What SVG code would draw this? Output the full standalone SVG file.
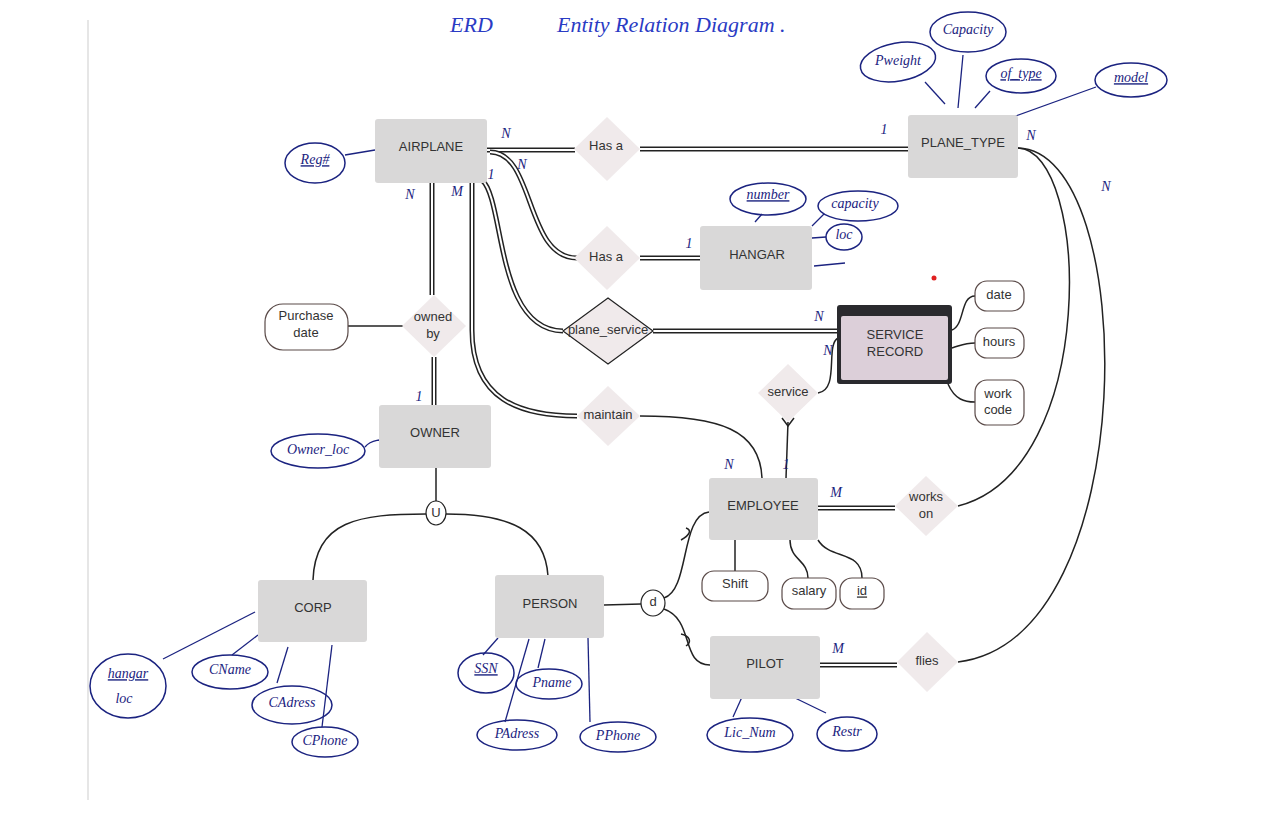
<svg xmlns="http://www.w3.org/2000/svg" width="1275" height="835" viewBox="0 0 1275 835">
<style>
.ent{fill:#d9d8d8;stroke:none}
.dia{fill:#f0eaeb;stroke:none}
.t{font-family:"Liberation Sans",Arial,sans-serif;font-size:13px;fill:#333;text-anchor:middle;dominant-baseline:middle}
.h{font-family:"Liberation Serif","DejaVu Serif",serif;font-style:italic;font-size:14px;fill:#1b2380;text-anchor:middle;dominant-baseline:middle}
.ttl{font-family:"Liberation Serif","DejaVu Serif",serif;font-style:italic;font-size:22px;fill:#2a3bc4}
.ha{fill:none;stroke:#1b2380;stroke-width:1.5}
.ln{fill:none;stroke:#222;stroke-width:1.5}
.hl{fill:none;stroke:#1b2380;stroke-width:1.3}
.d1{fill:none;stroke:#222;stroke-width:5}
.d2{fill:none;stroke:#fff;stroke-width:2}
.rr{fill:#fff;stroke:#5a4a48;stroke-width:1.2}
</style>
<rect width="1275" height="835" fill="#fff"/>
<line x1="88" y1="20" x2="88" y2="800" stroke="#e6e6e6" stroke-width="2"/>
<g id="title">
<text class="ttl" x="450" y="32">ERD</text>
<text class="ttl" x="557" y="32">Entity Relation Diagram .</text>
</g>
<g id="connectors">
<g id="doubles">
<path class="d1" d="M487 150 L575 150"/><path class="d2" d="M487 150 L575 150"/>
<path class="d1" d="M640 149 L908 149"/><path class="d2" d="M640 149 L908 149"/>
<path class="d1" d="M490 152 C535 152 525 258 577 258"/><path class="d2" d="M490 152 C535 152 525 258 577 258"/>
<path class="d1" d="M640 258 L700 258"/><path class="d2" d="M640 258 L700 258"/>
<path class="d1" d="M482 180 C505 200 495 330 563 331"/><path class="d2" d="M482 180 C505 200 495 330 563 331"/>
<path class="d1" d="M653 331 L838 331"/><path class="d2" d="M653 331 L838 331"/>
<path class="d1" d="M472 183 L472 330 C472 400 520 416 577 416"/><path class="d2" d="M472 183 L472 330 C472 400 520 416 577 416"/>
<path class="d1" d="M432 183 L432 295"/><path class="d2" d="M432 183 L432 295"/>
<path class="d1" d="M434 357 L434 405"/><path class="d2" d="M434 357 L434 405"/>
<path class="d1" d="M818 508 L895 508"/><path class="d2" d="M818 508 L895 508"/>
<path class="d1" d="M820 665 L897 665"/><path class="d2" d="M820 665 L897 665"/>
</g>
<path class="ln" d="M348 326 L403 326"/>
<path class="ln" d="M640 416 C720 416 760 430 762 478"/>
<path class="ln" d="M818 393 C840 390 825 345 838 338"/>
<path class="ln" d="M788 422 L786 478"/>
<path class="ln" d="M782 418 L788 426 L794 418"/>
<path class="ln" d="M952 330 C965 325 960 296 975 296"/>
<path class="ln" d="M952 348 C962 345 965 343 975 343"/>
<path class="ln" d="M948 384 C955 400 965 402 975 402"/>
<path class="ln" d="M1018 148 C1090 150 1100 470 958 506"/>
<path class="ln" d="M1018 148 C1140 150 1145 640 958 662"/>
<path class="ln" d="M436 468 L436 501"/>
<path class="ln" d="M426 514 C360 514 315 520 313 580"/>
<path class="ln" d="M446 514 C510 514 545 530 548 576"/>
<path class="ln" d="M604 605 L641 604"/>
<path class="ln" d="M664 598 C690 590 680 515 709 512"/>
<path class="ln" d="M664 609 C695 620 680 665 710 665"/>
<path class="ln" d="M681 540 C690 535 692 530 686 528"/>
<path class="ln" d="M681 634 C690 636 692 642 686 646"/>
<path class="ln" d="M735 540 L735 571"/>
<path class="ln" d="M790 540 C790 560 808 560 808 578"/>
<path class="ln" d="M818 540 C830 560 862 550 862 578"/>
<path class="hl" d="M345 155 L375 150"/>
<path class="hl" d="M925 82 L945 104"/>
<path class="hl" d="M963 55 L958 108"/>
<path class="hl" d="M990 91 L975 108"/>
<path class="hl" d="M1096 87 L1010 118"/>
<path class="hl" d="M755 222 L762 214"/>
<path class="hl" d="M812 226 L824 214"/>
<path class="hl" d="M812 238 L826 237"/>
<path class="hl" d="M814 266 L845 263"/>
<path class="hl" d="M365 447 C370 441 375 441 379 440"/>
<path class="hl" d="M163 659 L255 612"/>
<path class="hl" d="M232 655 L258 635"/>
<path class="hl" d="M277 683 L288 647"/>
<path class="hl" d="M322 727 L332 645"/>
<path class="hl" d="M498 638 L483 655"/>
<path class="hl" d="M545 639 L538 668"/>
<path class="hl" d="M529 639 L505 722"/>
<path class="hl" d="M588 638 L590 722"/>
<path class="hl" d="M742 697 L733 717"/>
<path class="hl" d="M793 697 L826 713"/>
</g>
<g id="labels">
<text class="h" x="506" y="135">N</text>
<text class="h" x="522" y="166">N</text>
<text class="h" x="491" y="176">1</text>
<text class="h" x="410" y="196">N</text>
<text class="h" x="457" y="193">M</text>
<text class="h" x="884" y="131">1</text>
<text class="h" x="1031" y="137">N</text>
<text class="h" x="1106" y="188">N</text>
<text class="h" x="689" y="245">1</text>
<text class="h" x="819" y="318">N</text>
<text class="h" x="828" y="352">N</text>
<text class="h" x="419" y="398">1</text>
<text class="h" x="729" y="466">N</text>
<text class="h" x="786" y="466">1</text>
<text class="h" x="836" y="494">M</text>
<text class="h" x="838" y="650">M</text>
</g>
<g id="airplane"><rect class="ent" x="375" y="119" width="112" height="64" rx="3"/><text class="t" x="431" y="148">AIRPLANE</text></g>
<g id="reg"><ellipse class="ha" cx="315" cy="163" rx="30" ry="20"/><text class="h" x="315" y="161" text-decoration="underline">Reg#</text></g>
<g id="hasa1"><polygon class="dia" points="607,117 640,149 607,181 574,149"/><text class="t" x="606" y="147">Has a</text></g>
<g id="plane_type"><rect class="ent" x="908" y="115" width="110" height="63" rx="3"/><text class="t" x="963" y="144">PLANE_TYPE</text></g>
<g id="pweight"><ellipse class="ha" cx="898" cy="62" rx="38" ry="19" transform="rotate(-10 898 62)"/><text class="h" x="898" y="62">Pweight</text></g>
<g id="capacity"><ellipse class="ha" cx="968" cy="32" rx="38" ry="20"/><text class="h" x="968" y="31">Capacity</text></g>
<g id="of_type"><ellipse class="ha" cx="1021" cy="76" rx="35" ry="17"/><text class="h" x="1021" y="75" text-decoration="underline">of_type</text></g>
<g id="model"><ellipse class="ha" cx="1131" cy="80" rx="36" ry="17"/><text class="h" x="1131" y="79" text-decoration="underline">model</text></g>
<g id="hasa2"><polygon class="dia" points="607,226 640,258 607,290 574,258"/><text class="t" x="606" y="258">Has a</text></g>
<g id="hangar"><rect class="ent" x="700" y="226" width="112" height="64" rx="3"/><text class="t" x="757" y="256">HANGAR</text></g>
<g id="number"><ellipse class="ha" cx="768" cy="199" rx="38" ry="16"/><text class="h" x="768" y="196" text-decoration="underline">number</text></g>
<g id="hcapacity"><ellipse class="ha" cx="858" cy="206" rx="40" ry="15"/><text class="h" x="855" y="205">capacity</text></g>
<g id="loc"><ellipse class="ha" cx="844" cy="237" rx="18" ry="13"/><text class="h" x="844" y="236">loc</text></g>
<g id="plane_service"><polygon points="608,298 653,331 608,364 563,331" fill="#f0eaeb" stroke="#222" stroke-width="1.2"/><text class="t" x="608" y="331">plane_service</text></g>
<g id="service_record"><rect x="837" y="305" width="115" height="79" rx="3" fill="#2a2a2e"/><rect x="841" y="316" width="107" height="64" rx="2" fill="#dccfd9"/><text class="t" x="895" y="336">SERVICE</text><text class="t" x="895" y="353">RECORD</text></g>
<g id="date"><rect class="rr" x="975" y="281" width="49" height="30" rx="12"/><text class="t" x="999" y="296">date</text></g>
<g id="hours"><rect class="rr" x="975" y="328" width="49" height="30" rx="12"/><text class="t" x="999" y="343">hours</text></g>
<g id="work_code"><rect class="rr" x="975" y="380" width="49" height="45" rx="12"/><text class="t" x="998" y="395">work</text><text class="t" x="998" y="411">code</text></g>
<g id="owned_by"><polygon class="dia" points="434,295 466,326 434,357 402,326"/><text class="t" x="433" y="318">owned</text><text class="t" x="433" y="335">by</text></g>
<g id="purchase_date"><rect class="rr" x="265" y="304" width="83" height="46" rx="18"/><text class="t" x="306" y="317">Purchase</text><text class="t" x="306" y="334">date</text></g>
<g id="service"><polygon class="dia" points="788,364 818,393 788,422 758,393"/><text class="t" x="788" y="393">service</text></g>
<g id="maintain"><polygon class="dia" points="608,386 640,416 608,446 577,416"/><text class="t" x="608" y="416">maintain</text></g>
<g id="owner"><rect class="ent" x="379" y="405" width="112" height="63" rx="3"/><text class="t" x="435" y="434">OWNER</text></g>
<g id="owner_loc"><ellipse class="ha" cx="318" cy="451" rx="47" ry="17"/><text class="h" x="318" y="451">Owner_loc</text></g>
<g id="union"><ellipse cx="436" cy="513" rx="10" ry="12" fill="#fff" stroke="#222" stroke-width="1.2"/><text class="t" x="436" y="514" font-size="11">U</text></g>
<g id="employee"><rect class="ent" x="709" y="478" width="109" height="62" rx="3"/><text class="t" x="763" y="507">EMPLOYEE</text></g>
<g id="works_on"><polygon class="dia" points="926,476 958,506 926,536 895,506"/><text class="t" x="926" y="498">works</text><text class="t" x="926" y="515">on</text></g>
<g id="shift"><rect class="rr" x="702" y="571" width="66" height="30" rx="12"/><text class="t" x="735" y="585">Shift</text></g>
<g id="salary"><rect class="rr" x="782" y="578" width="54" height="31" rx="12"/><text class="t" x="809" y="592">salary</text></g>
<g id="id"><rect class="rr" x="840" y="578" width="44" height="31" rx="12"/><text class="t" x="862" y="592" text-decoration="underline">id</text></g>
<g id="corp"><rect class="ent" x="258" y="580" width="109" height="62" rx="3"/><text class="t" x="313" y="609">CORP</text></g>
<g id="hangar_loc"><ellipse class="ha" cx="128" cy="686" rx="38" ry="32"/><text class="h" x="128" y="675" text-decoration="underline">hangar</text><text class="h" x="124" y="700">loc</text></g>
<g id="cname"><ellipse class="ha" cx="230" cy="672" rx="38" ry="17"/><text class="h" x="230" y="671">CName</text></g>
<g id="cadress"><ellipse class="ha" cx="292" cy="705" rx="40" ry="19"/><text class="h" x="292" y="704">CAdress</text></g>
<g id="cphone"><ellipse class="ha" cx="325" cy="742" rx="33" ry="15"/><text class="h" x="325" y="742">CPhone</text></g>
<g id="person"><rect class="ent" x="495" y="575" width="109" height="63" rx="3"/><text class="t" x="550" y="605">PERSON</text></g>
<g id="disjoint"><ellipse cx="653" cy="603" rx="12" ry="13" fill="#fff" stroke="#222" stroke-width="1.2"/><text class="t" x="653" y="603" font-family="Liberation Serif,serif" font-size="12">d</text></g>
<g id="ssn"><ellipse class="ha" cx="486" cy="673" rx="28" ry="20"/><text class="h" x="486" y="670" text-decoration="underline">SSN</text></g>
<g id="pname"><ellipse class="ha" cx="549" cy="684" rx="33" ry="15"/><text class="h" x="552" y="684">Pname</text></g>
<g id="padress"><ellipse class="ha" cx="517" cy="735" rx="40" ry="15"/><text class="h" x="517" y="735">PAdress</text></g>
<g id="pphone"><ellipse class="ha" cx="618" cy="737" rx="38" ry="15"/><text class="h" x="618" y="737">PPhone</text></g>
<g id="pilot"><rect class="ent" x="710" y="636" width="110" height="63" rx="3"/><text class="t" x="765" y="665">PILOT</text></g>
<g id="flies"><polygon class="dia" points="927,632 958,662 927,692 897,662"/><text class="t" x="927" y="662">flies</text></g>
<g id="lic_num"><ellipse class="ha" cx="750" cy="735" rx="43" ry="17"/><text class="h" x="750" y="734">Lic_Num</text></g>
<g id="restr"><ellipse class="ha" cx="847" cy="734" rx="30" ry="17"/><text class="h" x="847" y="733">Restr</text></g>
<circle cx="934" cy="278" r="2.5" fill="#e02020"/>
</svg>
